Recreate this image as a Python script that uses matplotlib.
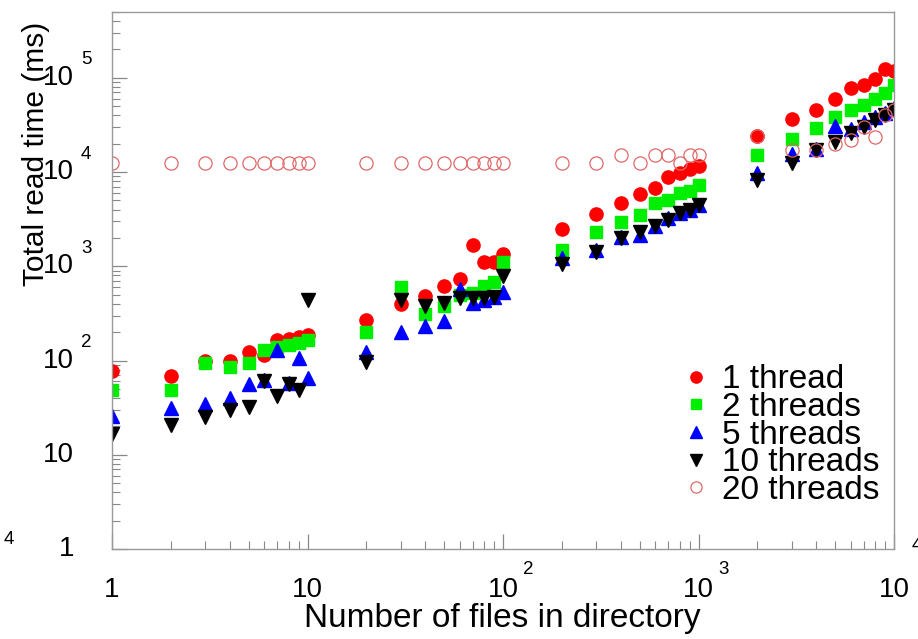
import matplotlib
matplotlib.use('Agg')
import matplotlib.pyplot as plt
import matplotlib.transforms as mtransforms
import numpy as np

plt.rcParams['font.family'] = ['Liberation Sans', 'DejaVu Sans']

# Data: number of files vs total read time (ms)
n_files = [1, 2, 3, 4, 5, 6, 7, 8, 9, 10,
           20, 30, 40, 50, 60, 70, 80, 90, 100,
           200, 300, 400, 500, 600, 700, 800, 900, 1000,
           2000, 3000, 4000, 5000, 6000, 7000, 8000, 9000, 10000]

t_1 = [78, 69, 100, 100, 122, 115, 167, 170, 178, 188,
       270, 400, 490, 620, 740, 1700, 1120, 1100, 1350,
       2500, 3600, 4700, 5800, 6800, 8900, 9800, 10700, 11600,
       24000, 36500, 45500, 59000, 79000, 83000, 98000, 123000, 117000]

t_2 = [49, 49, 95, 85, 95, 128, 140, 147, 155, 167,
       203, 605, 315, 380, 500, 525, 620, 690, 1120,
       1500, 2300, 2950, 3500, 4700, 5000, 6000, 6300, 7300,
       15000, 22400, 29200, 38000, 45500, 52000, 60000, 69000, 83000]

t_5 = [25.5, 31, 35, 40, 56, 62, 130, 58, 107, 66,
       124, 200, 230, 265, 570, 410, 440, 470, 540,
       1230, 1500, 2050, 2150, 2650, 3250, 3700, 4000, 4500,
       9800, 15500, 17500, 31000, 29000, 34000, 38000, 42000, 48000]

t_10 = [16.5, 20.5, 25, 30, 32, 60, 42, 57, 49, 440,
        97, 440, 375, 410, 465, 460, 460, 470, 780,
        1050, 1420, 2000, 2300, 2650, 3100, 3700, 4000, 4500,
        8200, 12500, 17000, 21000, 26000, 30000, 35500, 40000, 45500]

t_20 = [12500, 12500, 12500, 12500, 12500, 12500, 12500, 12500, 12500, 12500,
        12500, 12500, 12500, 12500, 12500, 12500, 12500, 12500, 12500,
        12500, 12500, 15000, 12500, 15000, 15000, 12500, 15000, 15000,
        24000, 17000, 17000, 20000, 22000, 30000, 23500, 40000, 45500]

x_ticks = [1, 10, 100, 1000, 10000]
x_base = ['1', '10', '10', '10', '10']
x_exp = ['', '', '2', '3', '']
y_ticks = [1, 10, 100, 1000, 10000, 100000]
y_base = ['1', '10', '10', '10', '10', '10']
y_exp = ['', '', '2', '3', '4', '5']

fig = plt.figure(figsize=(9.18, 6.39), dpi=100)
ax = fig.add_axes([112 / 918, 1 - 549 / 639, 782 / 918, 537 / 639])

ax.plot(n_files, t_1, ls='none', marker='o', ms=9.5, color='#ff0000', mec='#ff0000', label='1 thread')
ax.plot(n_files, t_2, ls='none', marker='s', ms=9, color='#00ee00', mec='#00ee00', label='2 threads')
ax.plot(n_files, t_5, ls='none', marker='^', ms=10, color='#0000ff', mec='#0000ff', label='5 threads')
ax.plot(n_files, t_10, ls='none', marker='v', ms=10, color='black', mec='black', label='10 threads')
ax.plot(n_files, t_20, ls='none', marker='o', ms=9.5, mfc='none', mec='#e06868', mew=0.9, label='20 threads')

ax.set_xscale('log')
ax.set_yscale('log')
ax.set_xlim(1, 1e4)
ax.set_ylim(1, 5e5)

for s in ax.spines.values():
    s.set_color('#999999')
    s.set_linewidth(1.0)

ax.tick_params(which='both', direction='in', colors='#888888', top=False, right=False,
               labelbottom=False, labelleft=False)
ax.tick_params(which='major', length=11, width=0.9)
ax.tick_params(which='minor', length=5.5, width=0.8)
ax.set_xticks(x_ticks)
ax.set_yticks(y_ticks)

# ROOT-like tick labels: base on the tick, exponent raised to the right
xtr = ax.get_xaxis_transform()
for xv, b, e in zip(x_ticks, x_base, x_exp):
    tr = mtransforms.offset_copy(xtr, fig=fig, x=0, y=-41, units='dots')
    ax.text(xv, 0, b, transform=tr, ha='center', va='center', fontsize=20, clip_on=False)
    if e:
        tr2 = mtransforms.offset_copy(xtr, fig=fig, x=20, y=-20, units='dots')
        ax.text(xv, 0, e, transform=tr2, ha='left', va='center', fontsize=13.5, clip_on=False)

ytr = ax.get_yaxis_transform()
for yv, b, e in zip(y_ticks, y_base, y_exp):
    tr = mtransforms.offset_copy(ytr, fig=fig, x=-38, y=0, units='dots')
    ax.text(0, yv, b, transform=tr, ha='right', va='center', fontsize=20, clip_on=False)
    if e:
        tr2 = mtransforms.offset_copy(ytr, fig=fig, x=-31, y=18, units='dots')
        ax.text(0, yv, e, transform=tr2, ha='left', va='center', fontsize=13.5, clip_on=False)

# cropped exponents at the image edges
fig.text(4 / 918, 1 - 540 / 639, '4', fontsize=13.5, ha='left', va='center')
fig.text(912 / 918, 1 - 545 / 639, '4', fontsize=13.5, ha='left', va='center')

fig.text(502 / 918, 1 - 627 / 639, 'Number of files in directory', fontsize=24,
         ha='center', va='baseline')
fig.text(36 / 918, 1 - 154 / 639, 'Total read time (ms)', fontsize=21.5,
         rotation=90, ha='center', va='center')

ax.legend(loc='lower right', bbox_to_anchor=(1.003, 0.049), frameon=False, fontsize=24,
          handlelength=0.8, handletextpad=0.4, labelspacing=-0.1, borderpad=0,
          markerscale=0.85)

fig.savefig('out.png', dpi=100)
